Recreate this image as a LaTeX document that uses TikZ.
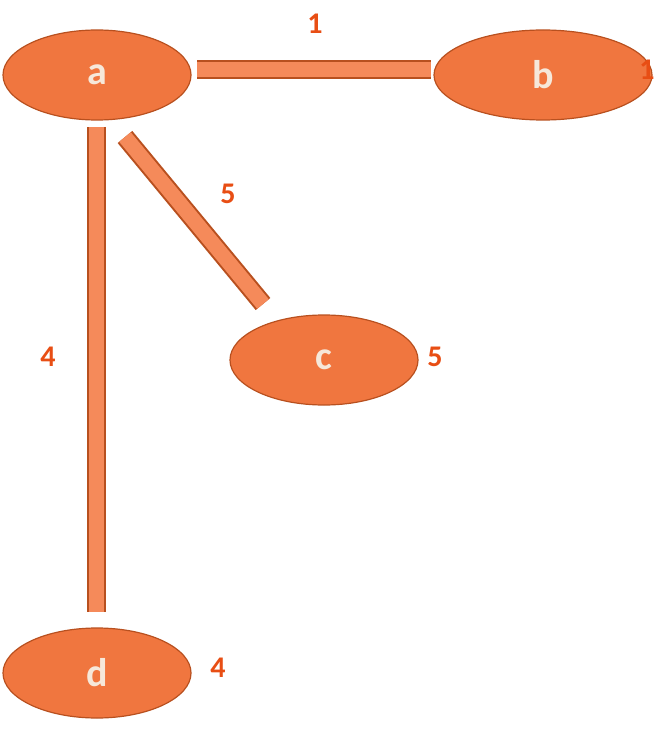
\documentclass[tikz,border=0pt]{standalone}
\usepackage{fontspec}
\setmainfont{Carlito}
\usetikzlibrary{shapes.geometric}
\definecolor{nodefill}{HTML}{F0763F}
\definecolor{nodeedge}{HTML}{B8501F}
\definecolor{barfill}{HTML}{F58A5A}
\definecolor{lab}{HTML}{E84E14}
\definecolor{txt}{HTML}{F6E8DA}
\begin{document}
\begin{tikzpicture}[x=1pt,y=-1pt,
  vtx/.style={ellipse,draw=nodeedge,line width=1.2pt,fill=nodefill,minimum width=188pt,minimum height=90pt,inner sep=0pt,font=\bfseries\fontsize{40}{40}\selectfont,text=txt},
  barout/.style={line width=19pt,draw=nodeedge},
  barin/.style={line width=15pt,draw=barfill},
  wlab/.style={font=\bfseries\fontsize{30}{30}\selectfont,text=lab}]
\useasboundingbox (0,0) rectangle (667,730);
\node[vtx] (a) at (97,75) {a};
\node[vtx,minimum width=218pt] (b) at (543,75) {b};
\node[vtx] (c) at (324,360) {c};
\node[vtx] (d) at (97,673) {d};
\coordinate (ab1) at (197,70); \coordinate (ab2) at (431,70);
\coordinate (ad1) at (96,127); \coordinate (ad2) at (96,612);
\coordinate (ac1) at (125,137); \coordinate (ac2) at (263,304);
\foreach \p/\q in {ab1/ab2,ad1/ad2,ac1/ac2}{
  \draw[barout] (\p) -- (\q);
  \draw[barin] (\p) -- (\q);}
\node[wlab] (l1) at (315,24) {1};
\node[wlab] (l2) at (647,70) {1};
\node[wlab] (l3) at (228,194) {5};
\node[wlab] (l4) at (435,357) {5};
\node[wlab] (l5) at (48,357) {4};
\node[wlab] (l6) at (218,668) {4};
\end{tikzpicture}
\end{document}
